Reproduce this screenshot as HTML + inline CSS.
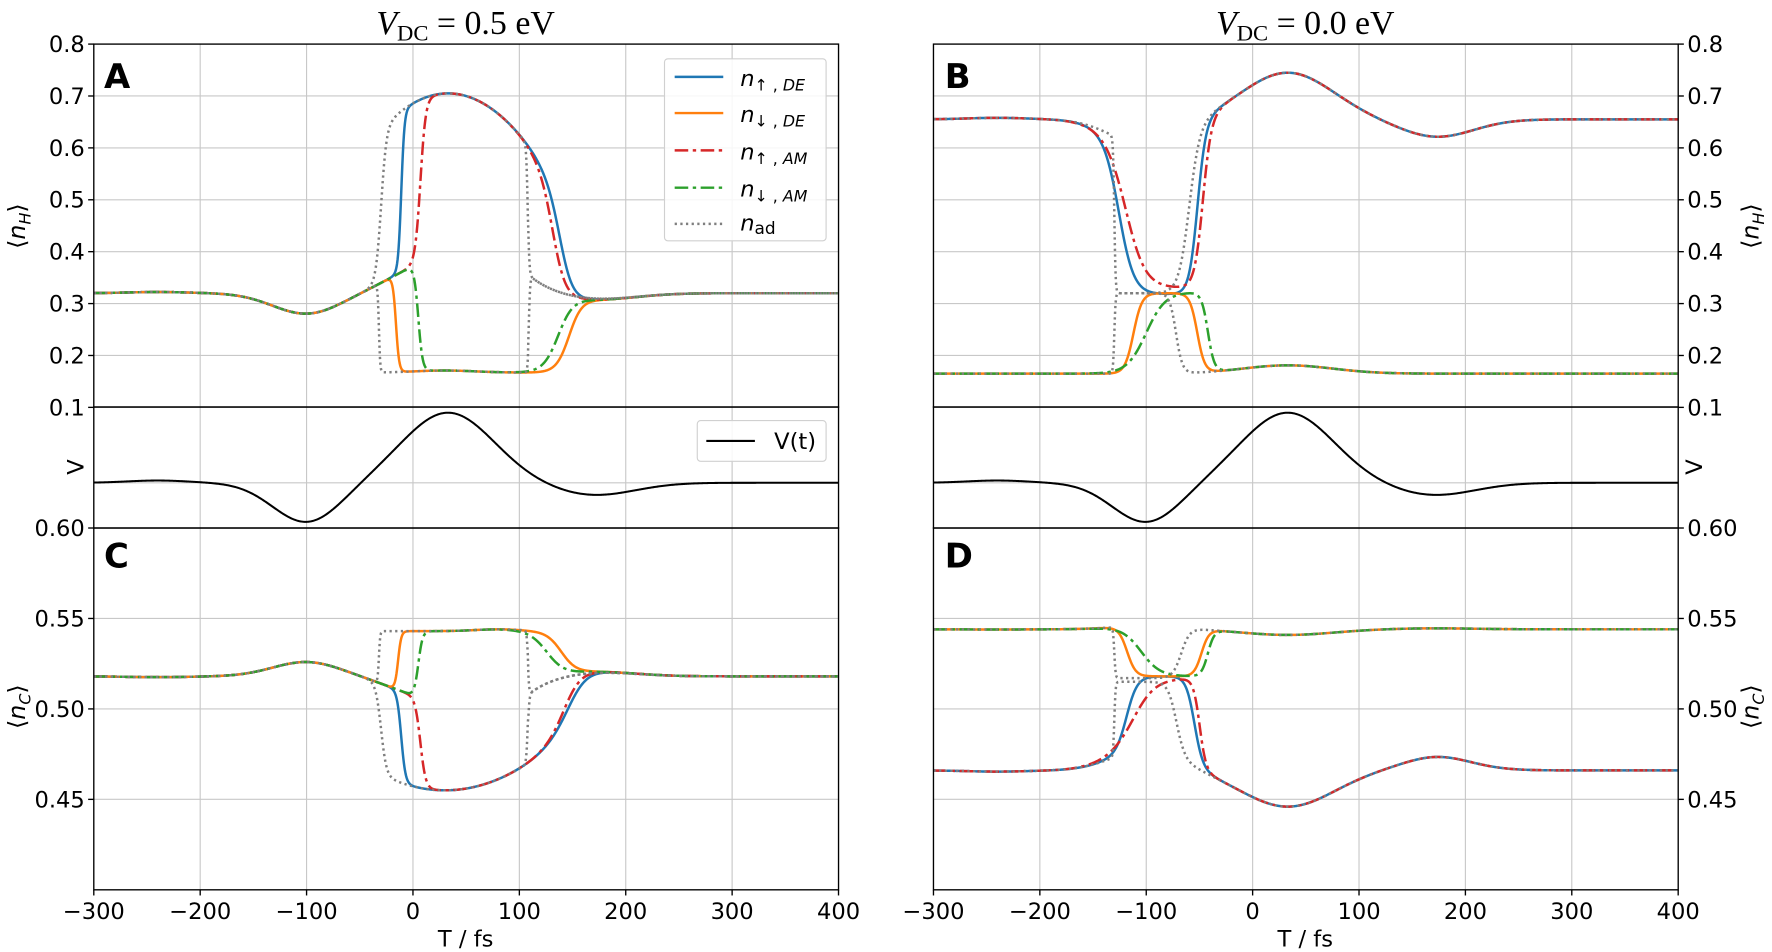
<!DOCTYPE html>
<html><head><meta charset="utf-8">
<style>
html,body{margin:0;padding:0;background:#fff;}
svg{display:block;}
text{font-family:"DejaVu Sans","Liberation Sans",sans-serif;fill:#000;}
</style></head>
<body>
<svg id="s" xmlns="http://www.w3.org/2000/svg" width="1772" height="952" viewBox="0 0 1568 842" preserveAspectRatio="none">
<rect width="1568" height="842" fill="#fff"/>
<g id="grid"></g>
<g id="curves"></g>
<g id="axes"></g>
<text x="412" y="30" text-anchor="middle" style="font-family:'Liberation Serif',serif" font-size="30"><tspan font-style="italic">V</tspan><tspan font-size="20" dy="6">DC</tspan><tspan dy="-6"> = 0.5 eV</tspan></text>
<text x="1155" y="30" text-anchor="middle" style="font-family:'Liberation Serif',serif" font-size="30"><tspan font-style="italic">V</tspan><tspan font-size="20" dy="6">DC</tspan><tspan dy="-6"> = 0.0 eV</tspan></text>
<text x="92" y="78" font-size="30" font-weight="bold">A</text>
<text x="836" y="78" font-size="30" font-weight="bold">B</text>
<text x="92" y="502" font-size="30" font-weight="bold">C</text>
<text x="836" y="502" font-size="30" font-weight="bold">D</text>
<text transform="translate(22,200) rotate(-90)" text-anchor="middle" font-size="21">⟨<tspan font-style="italic">n</tspan><tspan font-style="italic" font-size="14" dy="5">H</tspan><tspan dy="-5">⟩</tspan></text>
<text transform="translate(74,413) rotate(-90)" text-anchor="middle" font-size="20">V</text>
<text transform="translate(22,625) rotate(-90)" text-anchor="middle" font-size="21">⟨<tspan font-style="italic">n</tspan><tspan font-style="italic" font-size="14" dy="5">C</tspan><tspan dy="-5">⟩</tspan></text>
<text transform="translate(1556,200) rotate(-90)" text-anchor="middle" font-size="21">⟨<tspan font-style="italic">n</tspan><tspan font-style="italic" font-size="14" dy="5">H</tspan><tspan dy="-5">⟩</tspan></text>
<text transform="translate(1506,413) rotate(-90)" text-anchor="middle" font-size="20">V</text>
<text transform="translate(1556,625) rotate(-90)" text-anchor="middle" font-size="21">⟨<tspan font-style="italic">n</tspan><tspan font-style="italic" font-size="14" dy="5">C</tspan><tspan dy="-5">⟩</tspan></text>
<text x="412" y="837" text-anchor="middle" font-size="20">T / fs</text>
<text x="1155" y="837" text-anchor="middle" font-size="20">T / fs</text>
<g>
<rect x="588" y="52" width="143" height="161" rx="3" fill="#fff" fill-opacity="0.85" stroke="#d0d0d0" stroke-width="1"/>
<line x1="597" y1="68" x2="640" y2="68" stroke="#1f77b4" stroke-width="2.2"/>
<line x1="597" y1="100" x2="640" y2="100" stroke="#ff7f0e" stroke-width="2.2"/>
<line x1="597" y1="133" x2="640" y2="133" stroke="#d62728" stroke-width="2.2" stroke-dasharray="12,4,3,4"/>
<line x1="597" y1="166" x2="640" y2="166" stroke="#2ca02c" stroke-width="2.2" stroke-dasharray="12,4,3,4"/>
<line x1="597" y1="198" x2="640" y2="198" stroke="#7f7f7f" stroke-width="2.2" stroke-dasharray="2,3"/>
<text x="655" y="76" font-size="20"><tspan font-style="italic">n</tspan><tspan font-size="14" dy="4">↑ , <tspan font-style="italic">DE</tspan></tspan></text>
<text x="655" y="108" font-size="20"><tspan font-style="italic">n</tspan><tspan font-size="14" dy="4">↓ , <tspan font-style="italic">DE</tspan></tspan></text>
<text x="655" y="141" font-size="20"><tspan font-style="italic">n</tspan><tspan font-size="14" dy="4">↑ , <tspan font-style="italic">AM</tspan></tspan></text>
<text x="655" y="174" font-size="20"><tspan font-style="italic">n</tspan><tspan font-size="14" dy="4">↓ , <tspan font-style="italic">AM</tspan></tspan></text>
<text x="655" y="204" font-size="20"><tspan font-style="italic">n</tspan><tspan font-size="15" dy="3">ad</tspan></text>
</g>
<g>
<rect x="617" y="372" width="114" height="36" rx="3" fill="#fff" fill-opacity="0.85" stroke="#d0d0d0" stroke-width="1"/>
<line x1="625" y1="390" x2="668" y2="390" stroke="#000" stroke-width="1.8"/>
<text x="685" y="397" font-size="20">V(t)</text>
</g>
<script>
(function(){
var NS="http://www.w3.org/2000/svg";
function el(parent,tag,attrs,txt){var e=document.createElementNS(NS,tag);for(var k in attrs)e.setAttribute(k,attrs[k]);if(txt!==undefined)e.textContent=txt;document.getElementById(parent).appendChild(e);return e;}
function S(x){return 1/(1+Math.exp(-x));}
function g(t,c,w){var d=(t-c)/w;return Math.exp(-d*d);}
function p(t){return 62*g(t,33,60)-35*g(t,-100,45)-11*g(t,170,55)+2*g(t,-240,40);}
var X0=[83,826], XS=0.9414;
function X(side,t){return X0[side]+(t+300)*XS;}
function YA(n){return 39+(0.8-n)*459;}
function YC(n){return 467+(0.60-n)*1600;}
for(var side=0;side<2;side++){
  for(var t=-200;t<=300;t+=100){var x=X(side,t);el("grid","line",{x1:x,y1:39,x2:x,y2:787,stroke:"#c8c8c8","stroke-width":1});}
  var xl=X0[side],xr=X0[side]+659;
  for(var v=0.2;v<0.75;v+=0.1){var y=YA(v);el("grid","line",{x1:xl,y1:y,x2:xr,y2:y,stroke:"#c8c8c8","stroke-width":1});}
  el("grid","line",{x1:xl,y1:427,x2:xr,y2:427,stroke:"#c8c8c8","stroke-width":1});
  [0.45,0.5,0.55].forEach(function(v){var y=YC(v);el("grid","line",{x1:xl,y1:y,x2:xr,y2:y,stroke:"#c8c8c8","stroke-width":1});});
}
function draw(side,Y,f,color,dash){
  var d="";
  for(var t=-300;t<=400.01;t+=0.5){var v=f(t);d+=(d?"L":"M")+X(side,t).toFixed(2)+","+Y(v).toFixed(2);}
  var a={d:d,fill:"none",stroke:color,"stroke-width":2.2,"stroke-linejoin":"round"};
  if(dash)a["stroke-dasharray"]=dash;
  el("curves","path",a);
}
var B="#1f77b4",O="#ff7f0e",R="#d62728",G="#2ca02c",K="#7f7f7f",DD="12,4,3,4",DT="2,3";
function baseA(t){return 0.32+0.00114*p(t);}
function H(t){return 0.705-1.77e-5*(t-33)*(t-33);}
function L(t){return 0.167+0.004*g(t,30,40);}
function post(t,a){return t>108?a*Math.exp(-(t-108)/25)*S((t-108)/0.7):0;}
function mk(base,target,on,off,extra){return function(t){var b=base(t);var w=on(t)*(1-off(t));return b+(target(t)-b)*w+(extra?extra(t):0);};}
function sg(c,w){return function(t){return S((t-c)/w);};}
draw(0,YA,mk(baseA,H,sg(-11,1.5),sg(140,6)),B);
draw(0,YA,mk(baseA,L,sg(-16,1.5),sg(147,6)),O);
draw(0,YA,mk(baseA,H,sg(7,2.5),sg(133,6)),R,DD);
draw(0,YA,mk(baseA,L,sg(5,2),sg(137,7)),G,DD);
draw(0,YA,mk(baseA,H,sg(-30,2.5),sg(108,0.7),function(t){return post(t,0.025);}),K,DT);
draw(0,YA,mk(baseA,L,sg(-32,0.6),sg(109,0.6),function(t){return post(t,0.025);}),K,DT);
function baseC(t){return 0.518-0.000229*p(t);}
function HC(t){return 0.543+0.001*g(t,80,30);}
function LC(t){var d=(t-30)/70;return Math.min(0.52,0.455+0.012*d*d);}
draw(0,YC,mk(baseC,LC,sg(-11,2),sg(150,9)),B);
draw(0,YC,mk(baseC,HC,sg(-14,1.5),sg(140,7)),O);
draw(0,YC,mk(baseC,LC,sg(7,2.5),sg(145,8)),R,DD);
draw(0,YC,mk(baseC,HC,sg(5,2),sg(127,8)),G,DD);
draw(0,YC,mk(baseC,LC,sg(-30,2.5),sg(108,0.7),function(t){return post(t,-0.008);}),K,DT);
draw(0,YC,mk(baseC,HC,sg(-32,0.6),sg(108,0.6),function(t){return post(t,-0.008);}),K,DT);
function U(t){return 0.655+0.00145*p(t)-0.018*g(t,175,45);}
function LB(t){return 0.165+0.016*g(t,33,60);}
function c(v){return function(){return v;};}
draw(1,YA,mk(U,c(0.318),sg(-125,7),sg(-52,4)),B);
draw(1,YA,mk(LB,c(0.32),sg(-112,4),sg(-52,3.5)),O);
draw(1,YA,mk(U,c(0.33),sg(-118,9),sg(-47,4)),R,DD);
draw(1,YA,mk(LB,c(0.322),sg(-100,9),sg(-42,3)),G,DD);
draw(1,YA,mk(U,c(0.32),sg(-130,0.6),sg(-60,5)),K,DT);
draw(1,YA,mk(LB,c(0.32),sg(-130,0.6),sg(-72,3)),K,DT);
function UD(t){return 0.544-0.00005*p(t);}
function LD(t){return 0.466-0.000323*p(t)+0.004*g(t,175,40);}
draw(1,YC,mk(LD,c(0.518),sg(-118,5),sg(-55,4)),B);
draw(1,YC,mk(UD,c(0.518),sg(-118,4),sg(-48,3.5)),O);
draw(1,YC,mk(LD,c(0.517),sg(-110,10),sg(-50,3)),R,DD);
draw(1,YC,mk(UD,c(0.518),sg(-105,9),sg(-42,3)),G,DD);
draw(1,YC,mk(UD,c(0.517),sg(-130,0.6),sg(-67,4)),K,DT);
draw(1,YC,mk(LD,c(0.515),sg(-130,0.6),sg(-72,4)),K,DT);
for(var s2=0;s2<2;s2++){var d="";for(var t=-300;t<=400.01;t+=1){d+=(d?"L":"M")+X(s2,t).toFixed(2)+","+(427-p(t)).toFixed(2);}el("curves","path",{d:d,fill:"none",stroke:"#000","stroke-width":1.8});}
for(var side=0;side<2;side++){
  var xl=X0[side],xr=X0[side]+659;
  [[39,360],[360,467],[467,787]].forEach(function(r){el("axes","rect",{x:xl,y:r[0],width:659,height:r[1]-r[0],fill:"none",stroke:"#000","stroke-width":1.2});});
  for(var t=-300;t<=400;t+=100){var x=X(side,t);el("axes","line",{x1:x,y1:787,x2:x,y2:792,stroke:"#000","stroke-width":1.2});
    el("axes","text",{x:x,y:813,"text-anchor":"middle","font-size":20},(t<0?"\u2212":"")+Math.abs(t));}
  var left=side===0, tx=left?xl:xr, dir=left?-1:1, lx=left?xl-8:xr+8, anc=left?"end":"start";
  [0.1,0.2,0.3,0.4,0.5,0.6,0.7,0.8].forEach(function(v){var y=YA(v);el("axes","line",{x1:tx,y1:y,x2:tx+dir*5,y2:y,stroke:"#000","stroke-width":1.2});el("axes","text",{x:lx,y:y+7,"text-anchor":anc,"font-size":20},v.toFixed(1));});
  [0.45,0.5,0.55,0.6].forEach(function(v){var y=YC(v);el("axes","line",{x1:tx,y1:y,x2:tx+dir*5,y2:y,stroke:"#000","stroke-width":1.2});el("axes","text",{x:lx,y:y+7,"text-anchor":anc,"font-size":20},v.toFixed(2));});
}
})();
</script>
</svg>
</body></html>
